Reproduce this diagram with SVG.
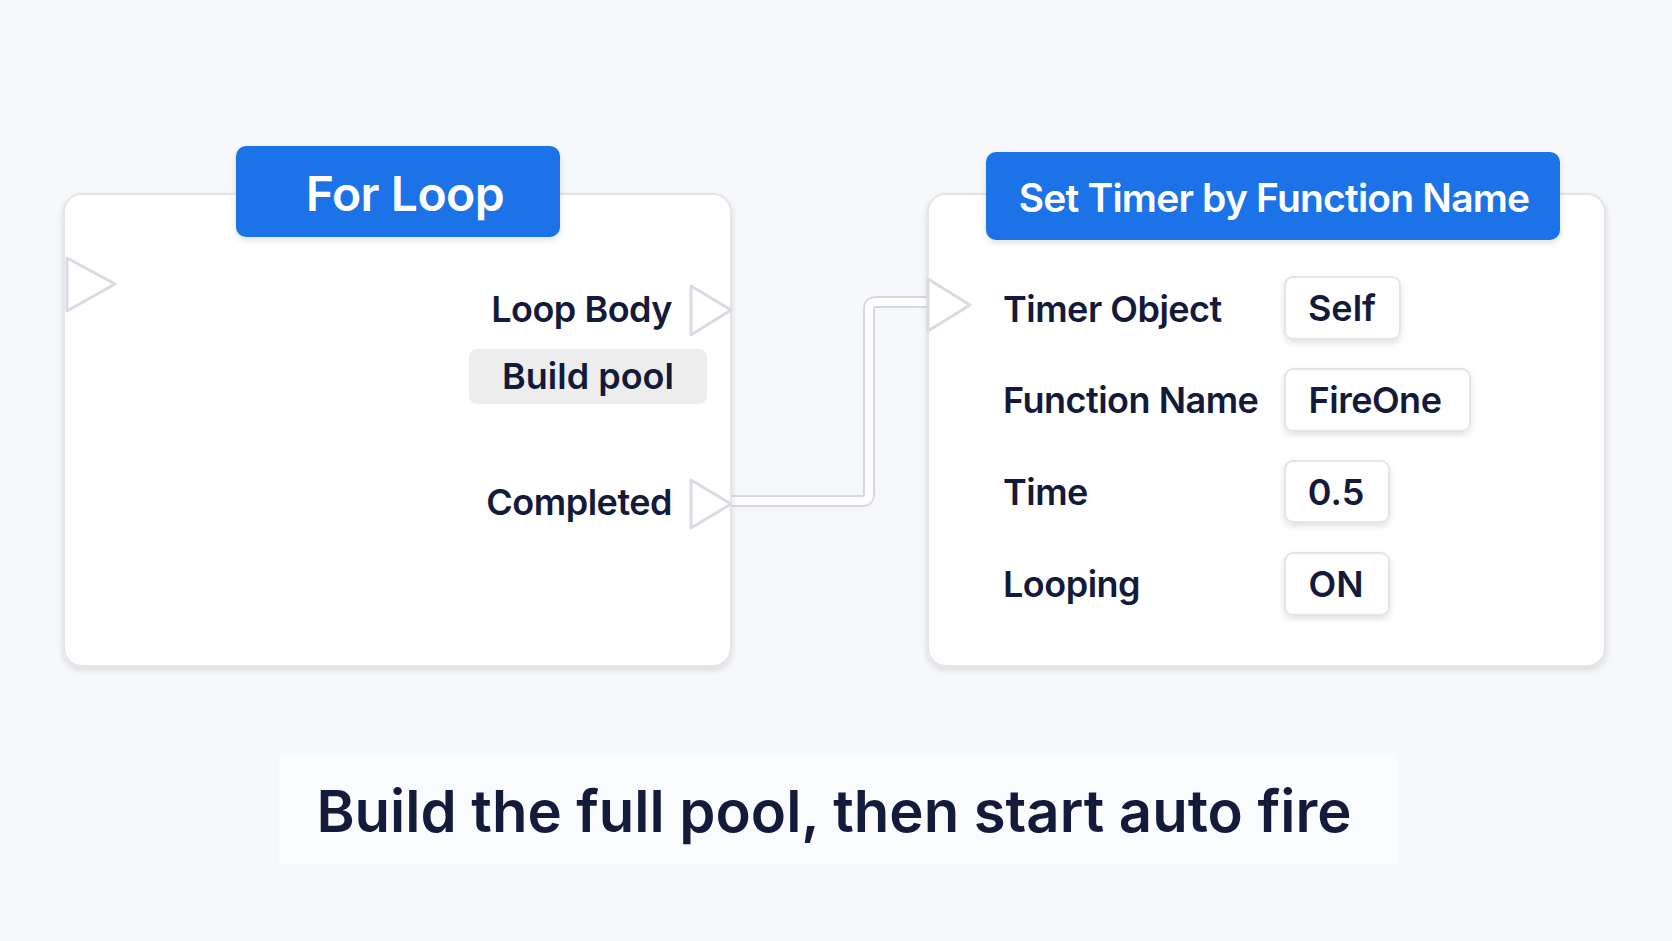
<svg xmlns="http://www.w3.org/2000/svg" width="1672" height="941" viewBox="0 0 1672 941">
<defs>
<filter id="sh" x="-10%" y="-10%" width="120%" height="130%"><feDropShadow dx="0" dy="3" stdDeviation="3" flood-color="#000" flood-opacity="0.12"/></filter>
</defs>
<style>
.node{fill:#fff;stroke:#e3e5ea;stroke-width:2}
.hdr{fill:#1a73e8}
.ht{font-family:Inter,"Noto Sans",sans-serif;font-weight:600;fill:#fff;text-anchor:middle}
.lbl{font-family:Inter,"Noto Sans",sans-serif;font-weight:600;fill:#141a3a;font-size:36px;letter-spacing:-0.5px}
.val{fill:#fff;stroke:#e3e5ea;stroke-width:2}
.vt{font-family:Inter,"Noto Sans",sans-serif;font-weight:600;fill:#141a3a;font-size:36px;text-anchor:middle}
.pin{fill:#fff;stroke:#d9dbe0;stroke-width:3;stroke-linejoin:round}
</style>
<rect width="1672" height="941" fill="#f7f8fa"/>
<g id="connectors">
<path d="M731 501 H862 Q869 501 869 494 V309 Q869 302 876 302 H928" fill="none" stroke="#d6d8dd" stroke-width="12"/>
<path d="M731 501 H862 Q869 501 869 494 V309 Q869 302 876 302 H928" fill="none" stroke="#fff" stroke-width="8"/>
</g>
<g id="for-loop">
<rect class="node" x="64" y="194" width="667" height="472" rx="18" filter="url(#sh)"/>
<rect class="hdr" x="236" y="146" width="324" height="91" rx="10" filter="url(#sh)"/>
<text class="ht" x="405" y="211" font-size="48" letter-spacing="-0.5">For Loop</text>
<path class="pin" d="M67 258 L115 284 L67 311 Z"/>
<text class="lbl" x="672" y="322" text-anchor="end">Loop Body</text>
<path class="pin" d="M691 286 L731 310 L691 335 Z"/>
<rect x="469" y="349" width="238" height="55" rx="8" fill="#ededee"/>
<text class="vt" x="588" y="389" font-size="30">Build pool</text>
<text class="lbl" x="672" y="515" text-anchor="end">Completed</text>
<path class="pin" d="M691 480 L731 504 L691 528 Z"/>
</g>
<g id="set-timer">
<rect class="node" x="928" y="194" width="677" height="472" rx="18" filter="url(#sh)"/>
<rect class="hdr" x="986" y="152" width="574" height="88" rx="10" filter="url(#sh)"/>
<text class="ht" x="1274" y="212" font-size="39" letter-spacing="-0.8">Set Timer by Function Name</text>
<path class="pin" d="M928 279 L970 305 L928 331 Z"/>
<text class="lbl" x="1003" y="322">Timer Object</text>
<text class="lbl" x="1003" y="413">Function Name</text>
<text class="lbl" x="1003" y="505">Time</text>
<text class="lbl" x="1003" y="597">Looping</text>
<rect class="val" x="1285" y="277" width="115" height="62" rx="8" filter="url(#sh)"/>
<text class="vt" x="1342" y="321">Self</text>
<rect class="val" x="1285" y="369" width="185" height="62" rx="8" filter="url(#sh)"/>
<text class="vt" x="1375" y="413" letter-spacing="-0.5">FireOne</text>
<rect class="val" x="1285" y="461" width="104" height="61" rx="8" filter="url(#sh)"/>
<text class="vt" x="1336" y="505">0.5</text>
<rect class="val" x="1285" y="553" width="104" height="62" rx="8" filter="url(#sh)"/>
<text class="vt" x="1336" y="597">ON</text>
</g>
<g id="caption">
<rect x="279" y="754" width="1118" height="110" fill="#fafbfc"/>
<text x="834" y="832" font-family="Inter,'Noto Sans',sans-serif" font-weight="600" font-size="58" fill="#141a3a" text-anchor="middle">Build the full pool, then start auto fire</text>
</g>
</svg>
